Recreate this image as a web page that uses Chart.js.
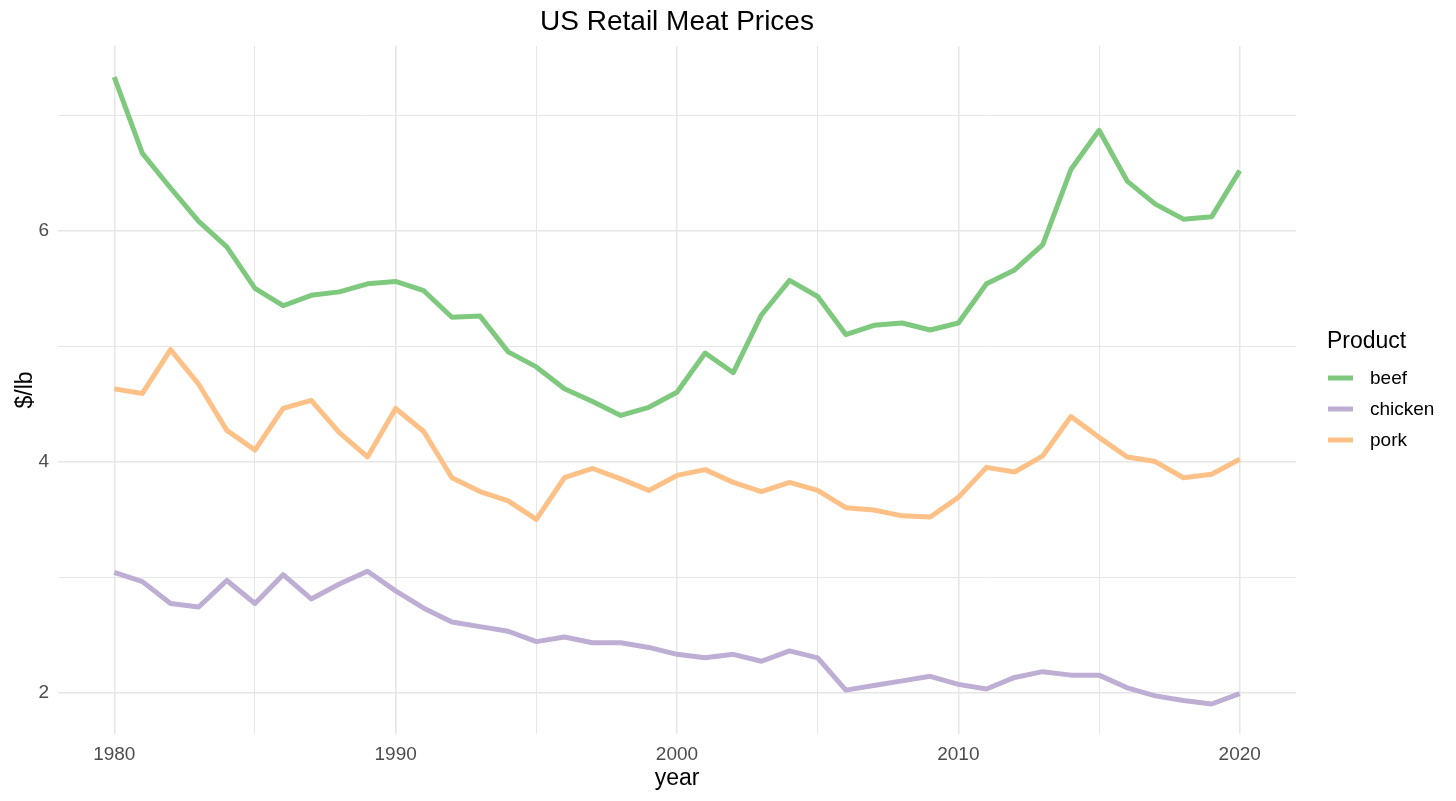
<!DOCTYPE html>
<html lang="en">
<head>
  <meta charset="UTF-8" />
  <title>US Retail Meat Prices</title>
  <script src="https://cdn.jsdelivr.net/npm/chart.js"></script>
  <style>
    html, body { margin: 0; padding: 0; background: #fff; }
    #wrap { width: 1456px; height: 801px; }
  </style>
</head>
<body>
  <div id="wrap"><canvas id="meatChart" width="1456" height="801"></canvas></div>

  <script>
    // data
    const years = [1980, 1981, 1982, 1983, 1984, 1985, 1986, 1987, 1988, 1989,
                   1990, 1991, 1992, 1993, 1994, 1995, 1996, 1997, 1998, 1999,
                   2000, 2001, 2002, 2003, 2004, 2005, 2006, 2007, 2008, 2009,
                   2010, 2011, 2012, 2013, 2014, 2015, 2016, 2017, 2018, 2019, 2020];

    const beef = [7.33, 6.67, 6.37, 6.08, 5.86, 5.50, 5.35, 5.44, 5.47, 5.54,
                  5.56, 5.48, 5.25, 5.26, 4.95, 4.82, 4.63, 4.52, 4.40, 4.47,
                  4.60, 4.94, 4.77, 5.27, 5.57, 5.43, 5.10, 5.18, 5.20, 5.14,
                  5.20, 5.54, 5.66, 5.88, 6.53, 6.87, 6.43, 6.23, 6.10, 6.12, 6.52];

    const chicken = [3.04, 2.96, 2.77, 2.74, 2.97, 2.77, 3.02, 2.81, 2.94, 3.05,
                     2.88, 2.73, 2.61, 2.57, 2.53, 2.44, 2.48, 2.43, 2.43, 2.39,
                     2.33, 2.30, 2.33, 2.27, 2.36, 2.30, 2.02, 2.06, 2.10, 2.14,
                     2.07, 2.03, 2.13, 2.18, 2.15, 2.15, 2.04, 1.97, 1.93, 1.90, 1.99];

    const pork = [4.63, 4.59, 4.97, 4.67, 4.27, 4.10, 4.46, 4.53, 4.25, 4.04,
                  4.46, 4.26, 3.86, 3.74, 3.66, 3.50, 3.86, 3.94, 3.85, 3.75,
                  3.88, 3.93, 3.82, 3.74, 3.82, 3.75, 3.60, 3.58, 3.53, 3.52,
                  3.69, 3.95, 3.91, 4.05, 4.39, 4.21, 4.04, 4.00, 3.86, 3.89, 4.02];

    const products = ["beef", "chicken", "pork"];
    const colors = ["#7fc97f", "#beaed4", "#fdc086"];
    const xTicks = [1980, 1985, 1990, 1995, 2000, 2005, 2010, 2015, 2020];
    const yTicks = [2, 3, 4, 5, 6, 7];

    const FONT = "'Liberation Sans', Arial, sans-serif";

    function toPoints(vals) {
      return years.map((y, i) => ({ x: y, y: vals[i] }));
    }

    const series = [beef, chicken, pork];

    // title + legend drawn by hand so they sit where ggplot put them
    const extras = {
      id: "extras",
      afterDraw(chart) {
        const ctx = chart.ctx;
        const area = chart.chartArea;
        ctx.save();
        ctx.fillStyle = "#000";
        ctx.textBaseline = "alphabetic";
        ctx.textAlign = "center";
        ctx.font = "28px " + FONT;
        ctx.fillText("US Retail Meat Prices", (area.left + area.right) / 2, 30);

        ctx.textAlign = "left";
        ctx.font = "23px " + FONT;
        ctx.fillText("Product", 1327, 348);

        ctx.font = "19px " + FONT;
        ctx.textBaseline = "middle";
        const rowY = [378, 409, 440];
        products.forEach((p, i) => {
          ctx.strokeStyle = colors[i];
          ctx.lineWidth = 5;
          ctx.beginPath();
          ctx.moveTo(1328, rowY[i]);
          ctx.lineTo(1353, rowY[i]);
          ctx.stroke();
          ctx.fillStyle = "#000";
          ctx.fillText(p, 1370, rowY[i] + 1);
        });
        ctx.restore();
      }
    };

    new Chart(document.getElementById("meatChart"), {
      type: "line",
      data: {
        datasets: products.map((p, i) => ({
          label: p,
          data: toPoints(series[i]),
          borderColor: colors[i],
          backgroundColor: colors[i],
          borderWidth: 5,
          borderCapStyle: "butt",
          borderJoinStyle: "round",
          pointRadius: 0,
          tension: 0,
          fill: false
        }))
      },
      options: {
        responsive: false,
        animation: false,
        layout: { padding: { top: 46, right: 160, left: 0, bottom: 0 } },
        plugins: {
          legend: { display: false },
          title: { display: false },
          tooltip: { enabled: false }
        },
        scales: {
          x: {
            type: "linear",
            min: 1978,
            max: 2022,
            afterFit(scale) { scale.height = 67; },
            afterBuildTicks(scale) { scale.ticks = xTicks.map(v => ({ value: v })); },
            border: { display: false },
            grid: {
              drawTicks: false,
              color: "#e6e6e6",
              lineWidth: ctx => (ctx.tick && ctx.tick.value % 10 === 0) ? 1.5 : 1
            },
            ticks: {
              padding: 9,
              autoSkip: false,
              maxRotation: 0,
              color: "#4d4d4d",
              font: { family: FONT, size: 19 },
              callback: v => (v % 10 === 0 ? String(v) : "")
            },
            title: {
              display: true,
              text: "year",
              color: "#000",
              font: { family: FONT, size: 23 },
              padding: { top: 4, bottom: 9 }
            }
          },
          y: {
            type: "linear",
            min: 1.64,
            max: 7.60,
            afterFit(scale) { scale.width = 58; },
            afterBuildTicks(scale) { scale.ticks = yTicks.map(v => ({ value: v })); },
            border: { display: false },
            grid: {
              drawTicks: false,
              color: "#e6e6e6",
              lineWidth: ctx => (ctx.tick && ctx.tick.value % 2 === 0) ? 1.5 : 1
            },
            ticks: {
              padding: 9,
              color: "#4d4d4d",
              font: { family: FONT, size: 19 },
              callback: v => (v % 2 === 0 ? String(v) : "")
            },
            title: {
              display: true,
              text: "$/lb",
              color: "#000",
              font: { family: FONT, size: 23 },
              padding: { top: 12, bottom: 4 }
            }
          }
        }
      },
      plugins: [extras]
    });
  </script>
</body>
</html>
